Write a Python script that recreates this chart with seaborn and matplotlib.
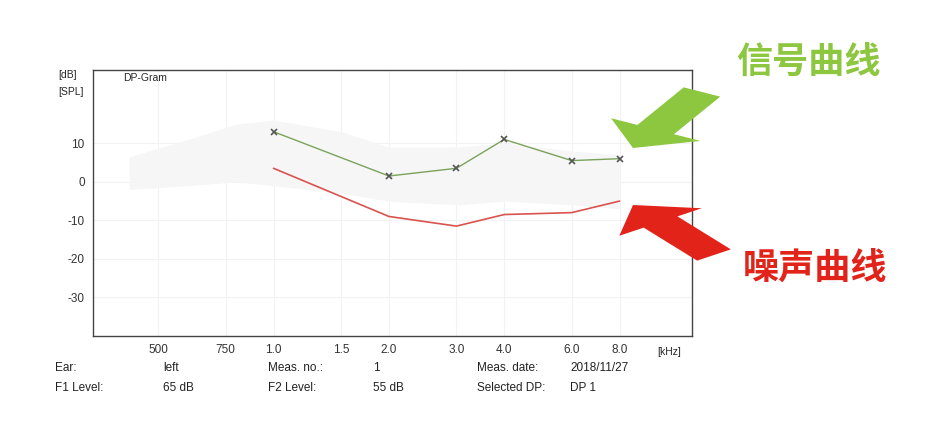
import numpy as np
import matplotlib.pyplot as plt
import seaborn as sns
from matplotlib.patches import FancyArrow

freq = [1000, 2000, 3000, 4000, 6000, 8000]
signal_db = [13, 1.5, 3.5, 11, 5.5, 6]
noise_db = [3.5, -9, -11.5, -8.5, -8, -5]

band_freq = [420, 600, 800, 1000, 1500, 2000, 3000, 4000, 6000, 8000]
band_hi = [6.5, 11, 15, 16, 13, 9, 9, 10, 8, 7]
band_lo = [-2, -1, 0, -1, -3, -5, -6, -5, -6, -7]

tick_freq = [500, 750, 1000, 1500, 2000, 3000, 4000, 6000, 8000]
tick_labels = ["500", "750", "1.0", "1.5", "2.0", "3.0", "4.0", "6.0", "8.0"]
y_ticks = [10, 0, -10, -20, -30]

sns.set_style("white")
plt.rcParams['font.family'] = ['Liberation Sans', 'Noto Sans CJK SC', 'DejaVu Sans']
plt.rcParams['axes.unicode_minus'] = False

fig = plt.figure(figsize=(9.3, 4.22), dpi=100)
ax = fig.add_axes([0.1, 0.204, 0.644, 0.63])

ax.fill_between(band_freq, band_lo, band_hi, color='#f6f6f6', lw=0)
sns.lineplot(x=freq, y=signal_db, ax=ax, color='#7aa35a', lw=1, marker='x',
             markersize=4, markeredgecolor='#555555', markeredgewidth=1.2)
sns.lineplot(x=freq, y=noise_db, ax=ax, color='#d9534f', lw=1.2)

ax.set_xscale('log')
ax.set_xlim(338, 12350)
ax.set_ylim(-40, 29)
ax.set_xticks(tick_freq)
ax.set_xticklabels(tick_labels)
ax.minorticks_off()
ax.set_yticks(y_ticks)
ax.tick_params(length=0, labelsize=8.5, colors='#333333', pad=6)
ax.grid(True, color='#f2f2f2', lw=0.8)
for s in ax.spines.values():
    s.set_color('#444444')
    s.set_linewidth(1)

fs = 8.5
fig.text(58 / 930, 1 - 75 / 422, "[dB]", fontsize=7.5, va='center')
fig.text(58 / 930, 1 - 92 / 422, "[SPL]", fontsize=7.5, va='center')
fig.text(123 / 930, 1 - 78 / 422, "DP-Gram", fontsize=7.5, va='center')
fig.text(657 / 930, 1 - 352 / 422, "[kHz]", fontsize=7.5, va='center')

rows = [
    [(55, "Ear:"), (163, "left"), (268, "Meas. no.:"), (373, "1"), (477, "Meas. date:"), (570, "2018/11/27")],
    [(55, "F1 Level:"), (163, "65 dB"), (268, "F2 Level:"), (373, "55 dB"), (477, "Selected DP:"), (570, "DP 1")],
]
for yy, row in zip([368, 388], rows):
    for xx, txt in row:
        fig.text(xx / 930, 1 - yy / 422, txt, fontsize=fs, va='center', color='#222222')

fig.text(808 / 930, 1 - 62 / 422, "信号曲线", fontsize=26, color='#8dc63f', weight='bold',
         ha='center', va='center', family=['Noto Sans CJK SC'])
fig.text(815 / 930, 1 - 268 / 422, "噪声曲线", fontsize=26, color='#e2231a', weight='bold',
         ha='center', va='center', family=['Noto Sans CJK SC'])

W, H = 930, 422
def arrow(x0, y0, x1, y1, color):
    fig.patches.append(FancyArrow(x0 / W, 1 - y0 / H, (x1 - x0) / W, -(y1 - y0) / H,
                                  width=0.045, head_width=0.11, head_length=0.05,
                                  length_includes_head=True, transform=fig.transFigure,
                                  color=color, lw=0))
arrow(702, 92, 633, 148, '#8dc63f')
arrow(714, 255, 633, 205, '#e2231a')

fig.savefig("out.png", dpi=100)
